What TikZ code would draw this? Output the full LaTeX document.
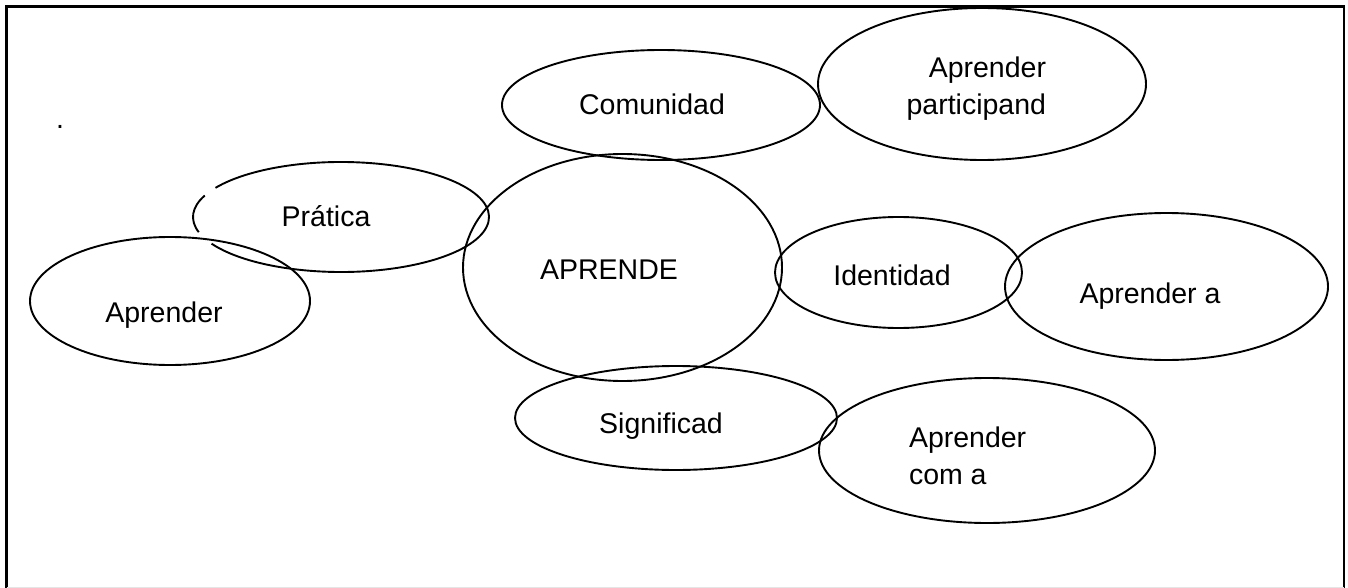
\documentclass[tikz,border=0pt]{standalone}
\usepackage{fontspec}
\setmainfont{Liberation Sans}
\usetikzlibrary{shapes.geometric}
\tikzset{
  eln/.style={ellipse, draw, line width=1.9pt, inner sep=0pt, outer sep=0pt},
  elhidden/.style={ellipse, inner sep=0pt, outer sep=0pt},
  elline/.style={line width=1.9pt},
  lbl/.style={inner sep=0pt, outer sep=0pt, font={\fontsize{28.5}{37}\selectfont}},
}
\begin{document}
\begin{tikzpicture}[x=1pt,y=1pt]
\useasboundingbox (0,0) rectangle (1348,-588);
% frame
\draw[line width=2.2pt] (6.5,-588) -- (6.5,-6.5) -- (1344,-6.5) -- (1344,-588);
\draw[line width=1pt, black!10] (6.5,-587) -- (1344,-587);
% ellipses
\node[eln, minimum width=318pt, minimum height=110pt] (com) at (661,-105) {};
\node[eln, minimum width=328pt, minimum height=152pt] (part) at (982,-84) {};
\node[elhidden, minimum width=296pt, minimum height=110pt] (prat) at (341,-217) {};
\draw[elline] (prat.center) ++(157:148pt and 55pt) arc[start angle=157, end angle=196, x radius=148pt, y radius=55pt];
\draw[elline] (prat.center) ++(209:148pt and 55pt) arc[start angle=209, end angle=508, x radius=148pt, y radius=55pt];
\node[eln, minimum width=319pt, minimum height=227pt] (apr) at (622.5,-267.5) {};
\node[eln, minimum width=280pt, minimum height=128pt] (aprl) at (170,-301) {};
\node[eln, minimum width=247pt, minimum height=111pt] (ident) at (898.5,-272.5) {};
\node[eln, minimum width=323pt, minimum height=147pt] (apra) at (1166.5,-286.5) {};
\node[eln, minimum width=322pt, minimum height=104pt] (sig) at (676,-418) {};
\node[eln, minimum width=336pt, minimum height=145pt] (coma) at (987,-450.5) {};
% texts
\node[lbl, anchor=base] (dot) at (60,-128.5) {.};
\node[lbl, anchor=base] (tcom) at (652,-115) {Comunidad};
\node[lbl, anchor=north east, align=right] (tpart) at (1046,-56.5) {Aprender\\participand};
\node[lbl, anchor=base] (tprat) at (326,-226) {Prática};
\node[lbl, anchor=base] (tapr) at (609,-279) {APRENDE};
\node[lbl, anchor=base] (taprl) at (164,-322) {Aprender};
\node[lbl, anchor=base] (tident) at (892,-285) {Identidad};
\node[lbl, anchor=base] (tapra) at (1150,-303) {Aprender a};
\node[lbl, anchor=base] (tsig) at (661,-433) {Significad};
\node[lbl, anchor=north west, align=left] (tcoma) at (909,-426.5) {Aprender\\com a};
\end{tikzpicture}
\end{document}
